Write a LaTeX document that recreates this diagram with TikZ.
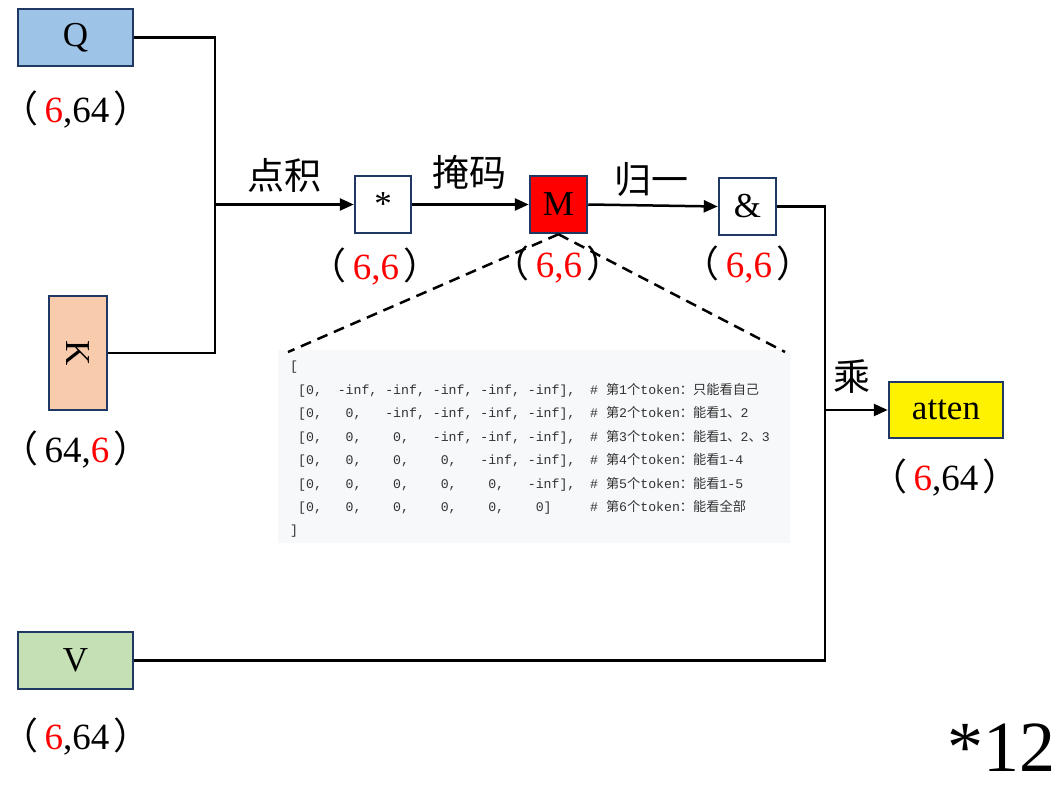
\documentclass[tikz,border=0pt]{standalone}
\usepackage{fontspec}
\usepackage{graphicx}
\setmainfont{Liberation Serif}
\newfontfamily\cjk{Noto Sans CJK SC}
\newfontfamily\codefont{Liberation Mono}
\usetikzlibrary{arrows.meta}
\definecolor{navy}{HTML}{1F3864}
\definecolor{qblue}{HTML}{9DC3E6}
\definecolor{kpeach}{HTML}{F8CBAD}
\definecolor{vgreen}{HTML}{C5E0B4}
\definecolor{codebg}{HTML}{F7F8FA}
\definecolor{codefg}{HTML}{333333}
\newcommand{\lpar}{{\cjk （}\kern6pt}
\newcommand{\rpar}{\kern4pt{\cjk ）}}
\newcommand{\rd}[1]{\textcolor{red}{#1}}
\begin{document}
\begin{tikzpicture}[x=1pt,y=-1pt,
  box/.style={draw=navy,line width=2.5pt,inner sep=0pt,font=\fontsize{35}{35}\selectfont},
  dim/.style={font=\fontsize{37}{37}\selectfont,inner sep=0pt},
  lab/.style={font=\cjk\fontsize{37}{37}\selectfont,inner sep=0pt},
  wire/.style={line width=2.5pt},
  arr/.style={wire,-{Triangle[length=14pt,width=12pt]}},
  dashline/.style={line width=2.5pt,dash pattern=on 11pt off 7pt},
  code/.style={font=\codefont\fontsize{13.2}{13.2}\selectfont,text=codefg,anchor=base west,inner sep=0pt},
  cmt/.style={code}
]
\useasboundingbox (0,0) rectangle (1061,790);

% code block
\fill[codebg] (278,350) rectangle (790,543);
\node[code] (r0) at (290,370.5) {[};
\node[code] (r1) at (298,394.5) {[0,~~-inf,~-inf,~-inf,~-inf,~-inf],};
\node[code] (r2) at (298,417.5) {[0,~~~0,~~~-inf,~-inf,~-inf,~-inf],};
\node[code] (r3) at (298,441.5) {[0,~~~0,~~~~0,~~~-inf,~-inf,~-inf],};
\node[code] (r4) at (298,464.5) {[0,~~~0,~~~~0,~~~~0,~~~-inf,~-inf],};
\node[code] (r5) at (298,488.5) {[0,~~~0,~~~~0,~~~~0,~~~~0,~~~-inf],};
\node[code] (r6) at (298,511.5) {[0,~~~0,~~~~0,~~~~0,~~~~0,~~~~0]};
\node[code] (r7) at (290,534.5) {]};
\node[cmt] (c1) at (590,394.5) {\#~{\cjk 第}1{\cjk 个}token{\cjk ：只能看自己}};
\node[cmt] (c2) at (590,417.5) {\#~{\cjk 第}2{\cjk 个}token{\cjk ：能看}1{\cjk 、}2};
\node[cmt] (c3) at (590,441.5) {\#~{\cjk 第}3{\cjk 个}token{\cjk ：能看}1{\cjk 、}2{\cjk 、}3};
\node[cmt] (c4) at (590,464.5) {\#~{\cjk 第}4{\cjk 个}token{\cjk ：能看}1-4};
\node[cmt] (c5) at (590,488.5) {\#~{\cjk 第}5{\cjk 个}token{\cjk ：能看}1-5};
\node[cmt] (c6) at (590,511.5) {\#~{\cjk 第}6{\cjk 个}token{\cjk ：能看全部}};

% boxes
\node[box,fill=qblue,minimum width=115pt,minimum height=57pt] (Q) at (75.5,37.5) {Q};
\node[box,fill=kpeach,minimum width=58pt,minimum height=114pt] (K) at (78,353) {\rotatebox{-90}{K}};
\node[box,fill=vgreen,minimum width=115pt,minimum height=57pt] (V) at (75.5,660.5) {V};
\node[box,fill=white,minimum width=56pt,minimum height=57pt] (S) at (383,204.5) {*};
\node[box,fill=red,minimum width=57pt,minimum height=57pt] (M) at (558.5,204.5) {M};
\node[box,fill=white,minimum width=57pt,minimum height=57pt] (A) at (747.5,206.5) {\&};
\node[box,fill=yellow,minimum width=114pt,minimum height=56pt] (T) at (946,410) {atten};

% dimension labels
\node[dim] (dQ) at (76,110) {\lpar\rd{6},64\rpar};
\node[dim] (dK) at (76,450) {\lpar 64,\rd{6}\rpar};
\node[dim] (dV) at (76,737) {\lpar\rd{6},64\rpar};
\node[dim] (dS) at (375,267) {\lpar\rd{6,6}\rpar};
\node[dim] (dM) at (558,265) {\lpar\rd{6,6}\rpar};
\node[dim] (dA) at (748,265) {\lpar\rd{6,6}\rpar};
\node[dim] (dT) at (945,478) {\lpar\rd{6},64\rpar};
\node[font=\fontsize{72}{72}\selectfont,inner sep=0pt] (rep) at (1001,748) {*12};

% operation labels
\node[lab] (l1) at (284,175) {点积};
\node[lab] (l2) at (469,172) {掩码};
\node[lab] (l3) at (651,180) {归一};
\node[lab] (l4) at (852,377) {乘};

% connectors
\coordinate (j1) at (215,204.5);
\coordinate (j2) at (825,410);
\draw[wire] (Q.east) -| (j1);
\draw[wire] (K.east) -| (j1);
\draw[arr] (j1) -- (S.west);
\draw[arr] (S.east) -- (M.west);
\draw[arr] (M.east) -- (A.west);
\draw[wire] (A.east) -| (j2);
\draw[wire] (V.east) -| (j2);
\draw[arr] (j2) -- (T.west);

% zoom lines
\coordinate (cl) at (288,352);
\coordinate (cr) at (785,352);
\draw[dashline] (M.south) -- (cl);
\draw[dashline] (M.south) -- (cr);
\end{tikzpicture}
\end{document}
